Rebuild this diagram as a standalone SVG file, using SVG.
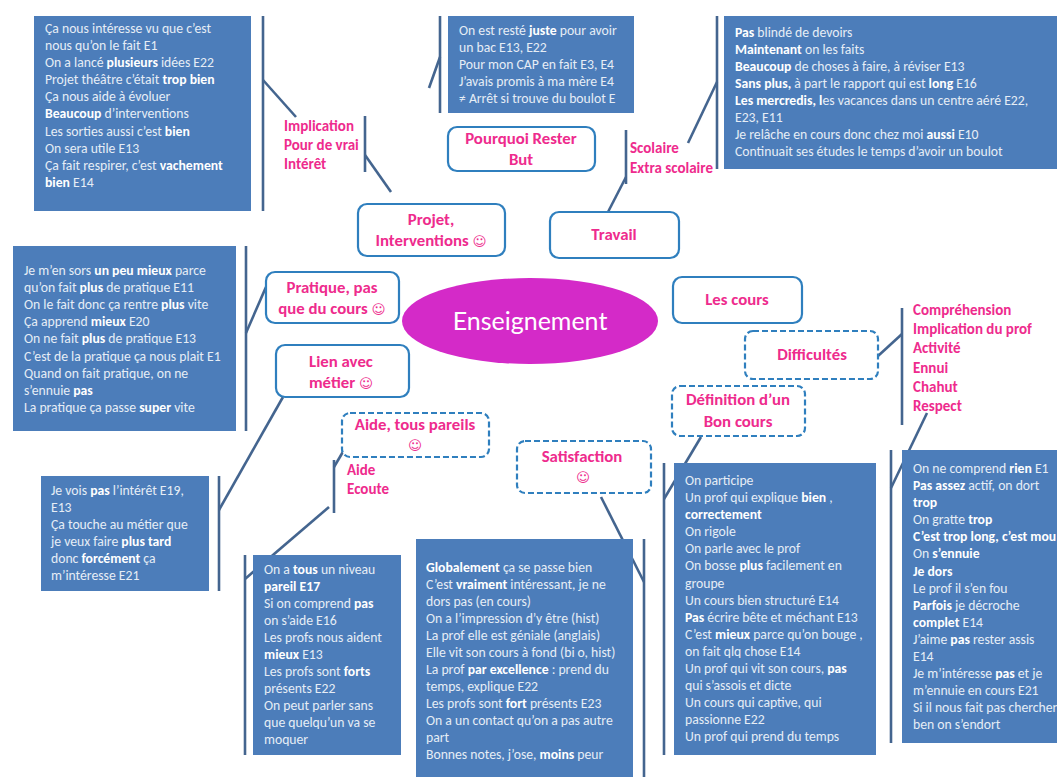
<svg xmlns="http://www.w3.org/2000/svg" width="1057" height="777" viewBox="0 0 1057 777">
<style>
.box{fill:#4c7dba}
.t{font:13.7px Carlito,Lato,"Liberation Sans",sans-serif;fill:#e6edf6}
.t .b{font-weight:700;fill:#fff}
.n{fill:#fff;stroke:#2f7fbe;stroke-width:2.2}
.d{stroke-dasharray:6 3}
.p{font:700 16.8px Carlito,Lato,"Liberation Sans",sans-serif;fill:#ee2b8d;text-anchor:middle}
.l{font:700 15px Carlito,Lato,"Liberation Sans",sans-serif;fill:#ee2b8d}
.s{font-family:"DejaVu Sans",sans-serif;font-weight:400;font-size:13.5px}
#connectors line{stroke:#44658f;stroke-width:2.6}
</style>
<rect width="1057" height="777" fill="#fff"/>
<g id="connectors">
<line x1="263" y1="16" x2="263" y2="211"/><line x1="263" y1="80" x2="296" y2="117"/>
<line x1="365" y1="116" x2="365" y2="172"/><line x1="365" y1="155" x2="391" y2="192"/>
<line x1="440" y1="16" x2="440" y2="113"/><line x1="429" y1="88" x2="440" y2="57"/>
<line x1="717" y1="16" x2="717" y2="169"/><line x1="688" y1="143" x2="717" y2="82"/>
<line x1="626" y1="130" x2="626" y2="184"/><line x1="608" y1="212" x2="626" y2="177"/>
<line x1="246" y1="246" x2="246" y2="431"/><line x1="246" y1="333" x2="266" y2="287"/>
<line x1="219" y1="476" x2="219" y2="591"/><line x1="283" y1="397" x2="219" y2="510"/>
<line x1="334" y1="460" x2="334" y2="513"/><line x1="347" y1="445" x2="334" y2="467"/>
<line x1="245" y1="555" x2="245" y2="755"/><line x1="329" y1="507" x2="245" y2="579"/>
<line x1="644" y1="539" x2="644" y2="777"/><line x1="601" y1="497" x2="644" y2="582"/>
<line x1="664" y1="463" x2="664" y2="755"/><line x1="701" y1="437" x2="664" y2="499"/>
<line x1="902" y1="308" x2="902" y2="425"/><line x1="878" y1="356" x2="902" y2="334"/>
<line x1="891" y1="450" x2="891" y2="743"/><line x1="927" y1="413" x2="891" y2="488"/>
</g>
<g id="box-implication"><rect class="box" x="34" y="16" width="217" height="195"/>
<text class="t"><tspan x="45" y="33">Ça nous intéresse vu que c’est</tspan><tspan x="45" y="50">nous qu’on le fait E1</tspan><tspan x="45" y="67">On a lancé <tspan class="b">plusieurs</tspan> idées E22</tspan><tspan x="45" y="84">Projet théâtre c’était <tspan class="b">trop bien</tspan></tspan><tspan x="45" y="101">Ça nous aide à évoluer</tspan><tspan x="45" y="118"><tspan class="b">Beaucoup</tspan> d’interventions</tspan><tspan x="45" y="136">Les sorties aussi c’est <tspan class="b">bien</tspan></tspan><tspan x="45" y="153">On sera utile E13</tspan><tspan x="45" y="170">Ça fait respirer, c’est <tspan class="b">vachement</tspan></tspan><tspan x="45" y="187"><tspan class="b">bien</tspan> E14</tspan></text></g>
<g id="box-rester"><rect class="box" x="448" y="16" width="186" height="97"/>
<text class="t"><tspan x="459" y="35">On est resté <tspan class="b">juste</tspan> pour avoir</tspan><tspan x="459" y="52">un bac E13, E22</tspan><tspan x="459" y="69">Pour mon CAP en fait E3, E4</tspan><tspan x="459" y="86">J’avais promis à ma mère E4</tspan><tspan x="459" y="103">≠ Arrêt si trouve du boulot E</tspan></text></g>
<g id="box-travail"><rect class="box" x="724" y="16" width="333" height="153"/>
<text class="t"><tspan x="735" y="37"><tspan class="b">Pas</tspan> blindé de devoirs</tspan><tspan x="735" y="54"><tspan class="b">Maintenant</tspan> on les faits</tspan><tspan x="735" y="71"><tspan class="b">Beaucoup</tspan> de choses à faire, à réviser E13</tspan><tspan x="735" y="88"><tspan class="b">Sans plus,</tspan> à part le rapport qui est <tspan class="b">long</tspan> E16</tspan><tspan x="735" y="105"><tspan class="b">Les mercredis, l</tspan>es vacances dans un centre aéré E22,</tspan><tspan x="735" y="122">E23, E11</tspan><tspan x="735" y="139">Je relâche en cours donc chez moi <tspan class="b">aussi</tspan> E10</tspan><tspan x="735" y="156">Continuait ses études le temps d’avoir un boulot</tspan></text></g>
<g id="box-pratique"><rect class="box" x="13" y="246" width="223" height="185"/>
<text class="t"><tspan x="24" y="275">Je m’en sors <tspan class="b">un peu mieux</tspan> parce</tspan><tspan x="24" y="292">qu’on fait <tspan class="b">plus</tspan> de pratique E11</tspan><tspan x="24" y="309">On le fait donc ça rentre <tspan class="b">plus</tspan> vite</tspan><tspan x="24" y="326">Ça apprend <tspan class="b">mieux</tspan> E20</tspan><tspan x="24" y="343">On ne fait <tspan class="b">plus</tspan> de pratique E13</tspan><tspan x="24" y="361">C’est de la pratique ça nous plait E1</tspan><tspan x="24" y="378">Quand on fait pratique, on ne</tspan><tspan x="24" y="395">s’ennuie <tspan class="b">pas</tspan></tspan><tspan x="24" y="412">La pratique ça passe <tspan class="b">super</tspan> vite</tspan></text></g>
<g id="box-metier"><rect class="box" x="41" y="476" width="168" height="115"/>
<text class="t"><tspan x="51" y="495">Je vois <tspan class="b">pas</tspan> l’intérêt E19,</tspan><tspan x="51" y="512">E13</tspan><tspan x="51" y="529">Ça touche au métier que</tspan><tspan x="51" y="546">je veux faire <tspan class="b">plus tard</tspan></tspan><tspan x="51" y="563">donc <tspan class="b">forcément</tspan> ça</tspan><tspan x="51" y="580">m’intéresse E21</tspan></text></g>
<g id="box-aide"><rect class="box" x="253" y="555" width="148" height="200"/>
<text class="t"><tspan x="264" y="574">On a <tspan class="b">tous</tspan> un niveau</tspan><tspan x="264" y="591"><tspan class="b">pareil E17</tspan></tspan><tspan x="264" y="608">Si on comprend <tspan class="b">pas</tspan></tspan><tspan x="264" y="625">on s’aide E16</tspan><tspan x="264" y="642">Les profs nous aident</tspan><tspan x="264" y="659"><tspan class="b">mieux</tspan> E13</tspan><tspan x="264" y="676">Les profs sont <tspan class="b">forts</tspan></tspan><tspan x="264" y="693">présents E22</tspan><tspan x="264" y="710">On peut parler sans</tspan><tspan x="264" y="727">que quelqu’un va se</tspan><tspan x="264" y="744">moquer</tspan></text></g>
<g id="box-satisfaction"><rect class="box" x="416" y="539" width="217" height="238"/>
<text class="t"><tspan x="426" y="572"><tspan class="b">Globalement</tspan> ça se passe bien</tspan><tspan x="426" y="589">C’est <tspan class="b">vraiment</tspan> intéressant, je ne</tspan><tspan x="426" y="606">dors pas (en cours)</tspan><tspan x="426" y="623">On a l’impression d’y être (hist)</tspan><tspan x="426" y="640">La prof elle est géniale (anglais)</tspan><tspan x="426" y="657">Elle vit son cours à fond (bi o, hist)</tspan><tspan x="426" y="674">La prof <tspan class="b">par excellence</tspan> : prend du</tspan><tspan x="426" y="691">temps, explique E22</tspan><tspan x="426" y="708">Les profs sont <tspan class="b">fort</tspan> présents E23</tspan><tspan x="426" y="725">On a un contact qu’on a pas autre</tspan><tspan x="426" y="742">part</tspan><tspan x="426" y="759">Bonnes notes, j’ose, <tspan class="b">moins</tspan> peur</tspan></text></g>
<g id="box-definition"><rect class="box" x="674" y="463" width="202" height="292"/>
<text class="t"><tspan x="685" y="485">On participe</tspan><tspan x="685" y="502">Un prof qui explique <tspan class="b">bien</tspan> ,</tspan><tspan x="685" y="519"><tspan class="b">correctement</tspan></tspan><tspan x="685" y="536">On rigole</tspan><tspan x="685" y="553">On parle avec le prof</tspan><tspan x="685" y="570">On bosse <tspan class="b">plus</tspan> facilement en</tspan><tspan x="685" y="588">groupe</tspan><tspan x="685" y="605">Un cours bien structuré E14</tspan><tspan x="685" y="622"><tspan class="b">Pas</tspan> écrire bête et méchant E13</tspan><tspan x="685" y="639">C’est <tspan class="b">mieux</tspan> parce qu’on bouge ,</tspan><tspan x="685" y="656">on fait qlq chose E14</tspan><tspan x="685" y="673">Un prof qui vit son cours, <tspan class="b">pas</tspan></tspan><tspan x="685" y="690">qui s’assois et dicte</tspan><tspan x="685" y="707">Un cours qui captive, qui</tspan><tspan x="685" y="724">passionne E22</tspan><tspan x="685" y="741">Un prof qui prend du temps</tspan></text></g>
<g id="box-difficultes"><rect class="box" x="902" y="450" width="155" height="293"/>
<text class="t"><tspan x="913" y="473">On ne comprend <tspan class="b">rien</tspan> E1</tspan><tspan x="913" y="490"><tspan class="b">Pas assez</tspan> actif, on dort</tspan><tspan x="913" y="507"><tspan class="b">trop</tspan></tspan><tspan x="913" y="524">On gratte <tspan class="b">trop</tspan></tspan><tspan x="913" y="541"><tspan class="b">C’est trop long, c’est mou</tspan></tspan><tspan x="913" y="558">On <tspan class="b">s’ennuie</tspan></tspan><tspan x="913" y="576"><tspan class="b">Je dors</tspan></tspan><tspan x="913" y="593">Le prof il s’en fou</tspan><tspan x="913" y="610"><tspan class="b">Parfois</tspan> je décroche</tspan><tspan x="913" y="627"><tspan class="b">complet</tspan> E14</tspan><tspan x="913" y="644">J’aime <tspan class="b">pas</tspan> rester assis</tspan><tspan x="913" y="661">E14</tspan><tspan x="913" y="678">Je m’intéresse <tspan class="b">pas</tspan> et je</tspan><tspan x="913" y="695">m’ennuie en cours E21</tspan><tspan x="913" y="712">Si il nous fait pas chercher</tspan><tspan x="913" y="729">ben on s’endort</tspan></text></g>
<g id="center"><ellipse cx="530" cy="321" rx="128" ry="43" fill="#d42ac8"/><text x="530" y="330" font-family="Lato,'Liberation Sans',sans-serif" font-size="25" fill="#fff" text-anchor="middle">Enseignement</text></g>
<g id="node-projet"><rect class="n" x="358" y="204" width="147" height="52" rx="9"/><text class="p" x="431" y="225">Projet,</text><text class="p" x="431" y="246">Interventions <tspan class="s">☺</tspan></text></g>
<g id="node-pourquoi"><rect class="n" x="448" y="127" width="147" height="44" rx="9"/><text class="p" x="521" y="144">Pourquoi Rester</text><text class="p" x="521" y="165">But</text></g>
<g id="node-travail"><rect class="n" x="550" y="212" width="129" height="46" rx="9"/><text class="p" x="614" y="240">Travail</text></g>
<g id="node-pratique"><rect class="n" x="266" y="272" width="133" height="51" rx="9"/><text class="p" x="332" y="293">Pratique, pas</text><text class="p" x="332" y="314">que du cours <tspan class="s">☺</tspan></text></g>
<g id="node-lien"><rect class="n" x="276" y="345" width="133" height="52" rx="9"/><text class="p" x="341" y="367">Lien avec</text><text class="p" x="341" y="388">métier <tspan class="s">☺</tspan></text></g>
<g id="node-aide"><rect class="n d" x="342" y="413" width="147" height="44" rx="8"/><text class="p" x="415" y="430">Aide, tous pareils</text><text class="p s" x="415" y="450">☺</text></g>
<g id="node-satisfaction"><rect class="n d" x="517" y="441" width="134" height="52" rx="8"/><text class="p" x="582" y="462">Satisfaction</text><text class="p s" x="583" y="482">☺</text></g>
<g id="node-cours"><rect class="n" x="673" y="277" width="129" height="46" rx="9"/><text class="p" x="737" y="305">Les cours</text></g>
<g id="node-difficultes"><rect class="n d" x="745" y="331" width="133" height="48" rx="8"/><text class="p" x="812" y="360">Difficultés</text></g>
<g id="node-definition"><rect class="n d" x="672" y="386" width="133" height="50" rx="8"/><text class="p" x="738" y="405">Définition d’un</text><text class="p" x="738" y="427">Bon cours</text></g>
<g id="labels">
<text class="l"><tspan x="284" y="131">Implication</tspan><tspan x="284" y="150">Pour de vrai</tspan><tspan x="284" y="169">Intérêt</tspan></text>
<text class="l"><tspan x="630" y="153">Scolaire</tspan><tspan x="630" y="173">Extra scolaire</tspan></text>
<text class="l"><tspan x="347" y="475">Aide</tspan><tspan x="347" y="494">Ecoute</tspan></text>
<text class="l"><tspan x="913" y="315">Compréhension</tspan><tspan x="913" y="334">Implication du prof</tspan><tspan x="913" y="353">Activité</tspan><tspan x="913" y="373">Ennui</tspan><tspan x="913" y="392">Chahut</tspan><tspan x="913" y="411">Respect</tspan></text>
</g>
</svg>
